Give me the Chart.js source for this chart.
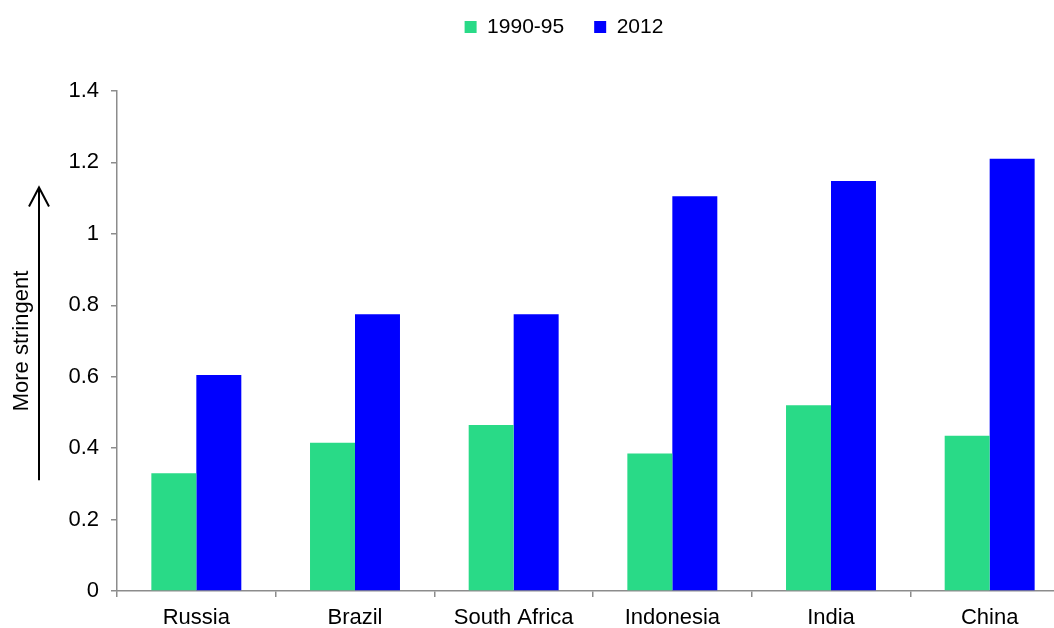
<!DOCTYPE html>
<html>
<head>
<meta charset="utf-8">
<script src="https://cdn.jsdelivr.net/npm/chart.js@4.4.1/dist/chart.umd.min.js"></script>
<style>
  html, body { margin: 0; padding: 0; background: #fff; overflow: hidden; }
  #wrap { width: 1069px; height: 628px; }
</style>
</head>
<body>
<div id="wrap"><canvas id="chart" width="1069" height="628"></canvas></div>
<script>
const countries = ["Russia", "Brazil", "South Africa", "Indonesia", "India", "China"];
const early = [0.33, 0.415, 0.465, 0.385, 0.52, 0.435];   // 1990-95
const recent = [0.605, 0.775, 0.775, 1.105, 1.148, 1.21]; // 2012
const yTicks = [0, 0.2, 0.4, 0.6, 0.8, 1, 1.2, 1.4];

Chart.defaults.font.family = '"Liberation Sans", Arial, sans-serif';
Chart.defaults.font.size = 22;
Chart.defaults.color = "#000";

const axisGray = "#8c8c8c";

// vertical "more stringent" arrow next to the y title
const arrowPlugin = {
  id: "arrow",
  afterDraw(chart) {
    const y = chart.scales.y, ctx = chart.ctx;
    const x = 39, top = y.getPixelForValue(1.13), bot = y.getPixelForValue(0.31);
    ctx.save();
    ctx.strokeStyle = "#000";
    ctx.lineWidth = 2;
    ctx.beginPath();
    ctx.moveTo(x, bot);
    ctx.lineTo(x, top);
    ctx.moveTo(x - 10, top + 19);
    ctx.lineTo(x, top);
    ctx.lineTo(x + 10, top + 19);
    ctx.stroke();
    ctx.restore();
  }
};

// keep legend box tall (pushes plot down), then nudge where it draws
const legendNudge = {
  id: "legendNudge",
  beforeLayout(chart) {
    const lg = chart.legend;
    if (lg && !lg._nudged) {
      const fit = lg.fit;
      lg.fit = function () { fit.call(this); this.height = 91; };
      lg._nudged = true;
    }
  },
  afterLayout(chart) {
    const lg = chart.legend;
    lg.left += 29.5; lg.right += 29.5;
    lg.top -= 13.5; lg.bottom -= 13.5;
  }
};

new Chart(document.getElementById("chart"), {
  type: "bar",
  data: {
    labels: countries,
    datasets: [
      {
        label: "1990-95",
        data: early,
        backgroundColor: "#29DA87",
        categoryPercentage: 0.567,
        barPercentage: 1.0
      },
      {
        label: "2012",
        data: recent,
        backgroundColor: "#0000FF",
        categoryPercentage: 0.567,
        barPercentage: 1.0
      }
    ]
  },
  options: {
    responsive: false,
    animation: false,
    layout: { padding: 0 },
    plugins: {
      legend: {
        position: "top",
        labels: { boxWidth: 12, boxHeight: 12, padding: 30, color: "#000", font: { size: 21 } }
      },
      tooltip: { enabled: false }
    },
    scales: {
      x: {
        grid: { display: true, offset: true, drawOnChartArea: false, tickLength: 6, color: axisGray, lineWidth: 1.5 },
        border: { color: axisGray, width: 1.5 },
        ticks: { padding: 8, color: "#000", maxRotation: 0 },
        afterFit: s => { s.height = 37; }
      },
      y: {
        min: 0,
        max: 1.4,
        afterBuildTicks: s => { s.ticks = yTicks.map(v => ({ value: v })); },
        ticks: { padding: 12, color: "#000", callback: v => String(v) },
        grid: { drawOnChartArea: false, tickLength: 6, color: axisGray, lineWidth: 1.5 },
        border: { color: axisGray, width: 1.5 },
        title: { display: true, text: "More stringent", color: "#000", font: { size: 22 }, padding: { top: 9, bottom: 0 } },
        afterFit: s => { s.width = 117; }
      }
    }
  },
  plugins: [arrowPlugin, legendNudge]
});
</script>
</body>
</html>
